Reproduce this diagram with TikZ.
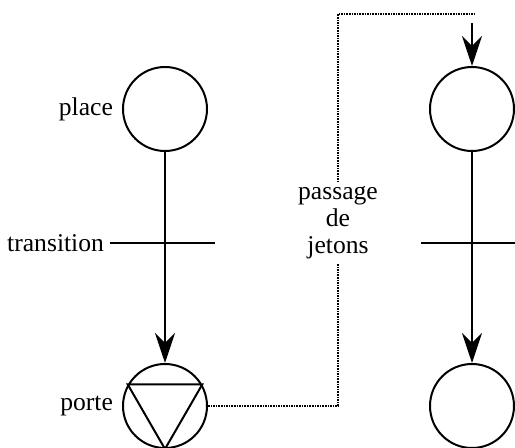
\documentclass[tikz,border=0pt]{standalone}
\usepackage{fontspec}
\setmainfont{Liberation Serif}
\usetikzlibrary{arrows.meta,positioning}

\begin{document}
\begin{tikzpicture}[x=0.5pt,y=-0.5pt,
    font=\fontsize{12.8pt}{13.5pt}\selectfont,
    place/.style={circle,draw,line width=1pt,minimum size=42pt,inner sep=0pt},
    arc/.style={-{Stealth[length=15pt,width=10pt,inset=5pt]},line width=1pt},
    bar/.style={line width=1pt},
    jeton/.style={line width=1.2pt,dash pattern=on 0.8pt off 0.5pt}]
    \useasboundingbox (0,0) rectangle (515,448);
    % places et porte
    \node[place] (p1) at (165,109) {};
    \node[place] (g1) at (165,406) {};
    \node[place] (p2) at (472,109) {};
    \node[place] (p3) at (472,406) {};
    \draw[line width=1pt] (g1.150) -- (g1.30) -- (g1.270) -- cycle;
    % transitions
    \coordinate (t1) at (165,243);
    \coordinate (t2) at (472,243);
    \draw[bar] ([xshift=-27.5pt]t1) coordinate (t1w) -- ([xshift=25pt]t1);
    \draw[bar] ([xshift=-25.5pt]t2) -- ([xshift=25.5pt]t2);
    \draw[arc] (p1) -- (g1);
    \draw[arc] (p2) -- (p3);
    % passage de jetons
    \coordinate (c1) at (338,14);
    \coordinate (c2) at (475,14);
    \coordinate (in2) at (472,23);
    \draw[jeton] (g1.east) -| (c1) -- (c2);
    \draw[arc] (in2) -- (p2);
    \node[fill=white,align=center,inner sep=2pt] (pj) at (338,223) {passage\\de\\jetons};
    % etiquettes
    \node[left=1pt of p1] (lp) {place};
    \node[left=1pt of g1] (lg) {porte};
    \node[left=-0.5pt of t1w] (lt) {transition};
\end{tikzpicture}
\end{document}
